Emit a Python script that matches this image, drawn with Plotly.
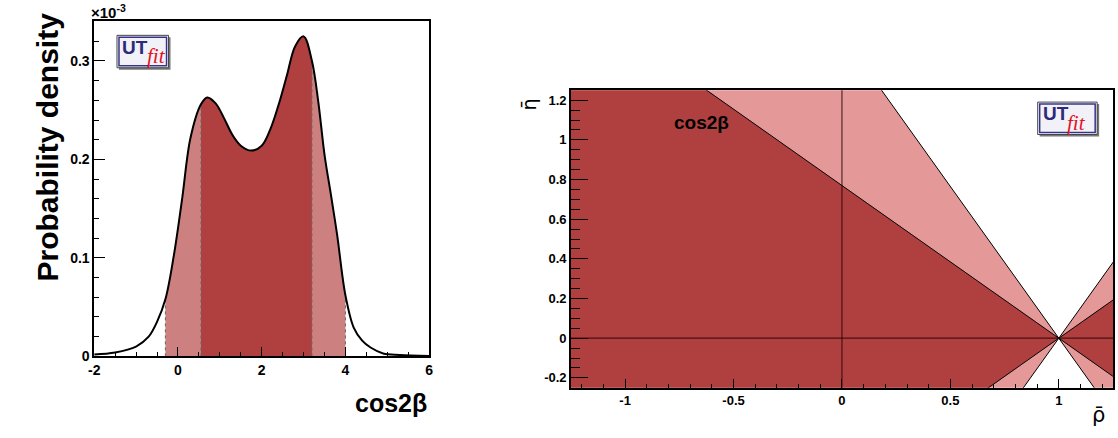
import plotly.graph_objects as go

# ---------------- data ----------------
# left panel: posterior density of cos2beta (units of 1e-3)
cos_x = [-2.0, -1.5, -1.0, -0.7, -0.5, -0.3, -0.1, 0.1, 0.3, 0.55, 0.7, 0.9, 1.1, 1.3,
         1.5, 1.75, 2.0, 2.2, 2.4, 2.6, 2.8, 3.0, 3.2, 3.35, 3.5, 3.65, 3.8, 4.0,
         4.2, 4.4, 4.6, 4.9, 5.3, 6.0]
density = [0.002, 0.004, 0.010, 0.020, 0.035, 0.058, 0.102, 0.160, 0.222, 0.256, 0.263,
           0.257, 0.242, 0.225, 0.214, 0.209, 0.214, 0.230, 0.255, 0.285, 0.315, 0.325,
           0.300, 0.259, 0.205, 0.165, 0.124, 0.062, 0.029, 0.016, 0.009, 0.003,
           0.0015, 0.0005]
band95 = [-0.3, 4.0]
band68 = [0.55, 3.2]

left_xticks = [-2, 0, 2, 4, 6]
left_xticktext = ["-2", "0", "2", "4", "6"]
left_yticks = [0, 0.1, 0.2, 0.3]
left_yticktext = ["0", "0.1", "0.2", "0.3"]

# right panel: cos2beta constraint in (rhobar, etabar) plane, wedges from apex
apex = [1.0, 0.0]
slope68 = 0.77
slope95 = 1.53

right_xticks = [-1, -0.5, 0, 0.5, 1]
right_xticktext = ["-1", "-0.5", "0", "0.5", "1"]
right_yticks = [-0.2, 0, 0.2, 0.4, 0.6, 0.8, 1.0, 1.2]
right_yticktext = ["-0.2", "0", "0.2", "0.4", "0.6", "0.8", "1", "1.2"]

# ---------------- style ----------------
W, H = 1118, 438
DARK = "rgb(176,64,64)"
LIGHT_L = "rgb(204,128,128)"
LIGHT_R = "rgb(228,152,152)"
FONT = "Liberation Sans"


def px(x):
    return x / W


def py(y):
    return 1 - y / H


fig = go.Figure()

# ----- left panel -----
i95a, i95b = cos_x.index(band95[0]), cos_x.index(band95[1])
i68a, i68b = cos_x.index(band68[0]), cos_x.index(band68[1])

fig.add_trace(go.Scatter(x=cos_x[i95a:i95b + 1], y=density[i95a:i95b + 1],
                         mode="lines", line=dict(width=0, shape="spline", color=LIGHT_L),
                         fill="tozeroy", fillcolor=LIGHT_L, xaxis="x", yaxis="y",
                         hoverinfo="skip"))
fig.add_trace(go.Scatter(x=cos_x[i68a:i68b + 1], y=density[i68a:i68b + 1],
                         mode="lines", line=dict(width=0, shape="spline", color=DARK),
                         fill="tozeroy", fillcolor=DARK, xaxis="x", yaxis="y",
                         hoverinfo="skip"))
for idx in [i95a, i68a, i68b, i95b]:
    fig.add_trace(go.Scatter(x=[cos_x[idx], cos_x[idx]], y=[0, density[idx]],
                             mode="lines", line=dict(width=1, dash="dot", color="#666"),
                             xaxis="x", yaxis="y", hoverinfo="skip"))
fig.add_trace(go.Scatter(x=cos_x, y=density, mode="lines",
                         line=dict(width=2, color="black", shape="spline"),
                         xaxis="x", yaxis="y"))

# ----- right panel -----
far_l, far_r = -3.0, 3.0
for slope, col in [(slope95, LIGHT_R), (slope68, DARK)]:
    dl = apex[0] - far_l
    fig.add_trace(go.Scatter(
        x=[apex[0], far_l, far_l, apex[0]],
        y=[apex[1], apex[1] + slope * dl, apex[1] - slope * dl, apex[1]],
        mode="lines", fill="toself", fillcolor=col,
        line=dict(color="black", width=1), xaxis="x2", yaxis="y2", hoverinfo="skip"))
    dr = far_r - apex[0]
    fig.add_trace(go.Scatter(
        x=[apex[0], far_r, far_r, apex[0]],
        y=[apex[1], apex[1] + slope * dr, apex[1] - slope * dr, apex[1]],
        mode="lines", fill="toself", fillcolor=col,
        line=dict(color="black", width=1), xaxis="x2", yaxis="y2", hoverinfo="skip"))

shapes = [
    dict(type="line", xref="x2", yref="y2 domain", x0=0, x1=0, y0=0, y1=1,
         line=dict(color="rgba(40,0,0,0.75)", width=1.2), layer="above"),
    dict(type="line", xref="x2 domain", yref="y2", x0=0, x1=1, y0=0, y1=0,
         line=dict(color="rgba(40,0,0,0.75)", width=1.2), layer="above"),
]

annotations = []


def add_logo(x0, y0, x1, y1):
    shapes.append(dict(type="rect", xref="paper", yref="paper",
                       x0=px(x0 + 2), x1=px(x1 + 2), y0=py(y1 + 2), y1=py(y0 + 2),
                       fillcolor="#777", line=dict(width=0), layer="above"))
    shapes.append(dict(type="rect", xref="paper", yref="paper",
                       x0=px(x0), x1=px(x1), y0=py(y1), y1=py(y0),
                       fillcolor="white", line=dict(color="#444", width=1), layer="above"))
    shapes.append(dict(type="rect", xref="paper", yref="paper",
                       x0=px(x0 + 2), x1=px(x1 - 2), y0=py(y1 - 2), y1=py(y0 + 2),
                       fillcolor="#f2f1f8", line=dict(color="#34348a", width=1.5),
                       layer="above"))
    annotations.append(dict(xref="paper", yref="paper", x=px(x0 + 3), y=py(y0 + 12),
                            xanchor="left", yanchor="middle", showarrow=False,
                            text="<b>UT</b>",
                            font=dict(family=FONT, size=19, color="#2b2b78")))
    annotations.append(dict(xref="paper", yref="paper", x=px(x0 + 28), y=py(y0 + 21),
                            xanchor="left", yanchor="middle", showarrow=False,
                            text="<i>fit</i>",
                            font=dict(family="Liberation Serif", size=21, color="#e0141e")))


add_logo(112, 36, 164, 69)
add_logo(1041, 104, 1101, 137)

annotations += [
    dict(xref="paper", yref="paper", x=px(23), y=py(150), textangle=-90,
         text="<b>Probability density</b>", showarrow=False,
         font=dict(family=FONT, size=30, color="black")),
    dict(xref="paper", yref="paper", x=px(427), y=py(410), xanchor="right",
         yanchor="middle", text="<b>cos2β</b>", showarrow=False,
         font=dict(family=FONT, size=25, color="black")),
    dict(xref="paper", yref="paper", x=px(84), y=py(12), xanchor="left",
         yanchor="middle", text="<b>×10<sup>-3</sup></b>", showarrow=False,
         font=dict(family=FONT, size=15, color="black")),
    dict(xref="x2", yref="y2", x=-0.65, y=1.09, text="<b>cos2β</b>", showarrow=False,
         font=dict(family=FONT, size=19, color="black")),
    dict(xref="paper", yref="paper", x=px(528), y=py(98), textangle=-90,
         text="η̄", showarrow=False, font=dict(family="DejaVu Sans", size=19, color="black")),
    dict(xref="paper", yref="paper", x=px(1111), y=py(437), yanchor="bottom",
         text="ρ̄", showarrow=False, font=dict(family="DejaVu Sans", size=21, color="black")),
]

axis_common = dict(showgrid=False, zeroline=False, showline=True, mirror=True,
                   linecolor="black", ticks="inside", tickcolor="black",
                   tickmode="array")

fig.update_layout(
    width=W, height=H, margin=dict(l=0, r=0, t=0, b=0),
    paper_bgcolor="white", plot_bgcolor="white", showlegend=False,
    xaxis=dict(**axis_common, domain=[px(89), px(427)], range=[-2, 6],
               tickvals=left_xticks, ticktext=left_xticktext, ticklen=10, tickwidth=1.3,
               linewidth=1.5, anchor="y",
               minor=dict(dtick=0.5, tick0=-2, ticklen=5, ticks="inside", tickcolor="black",
                          tickwidth=1.2),
               tickfont=dict(family=FONT, size=14, color="black", weight="bold")),
    yaxis=dict(**axis_common, domain=[py(363), py(21)], range=[0, 0.341],
               tickvals=left_yticks, ticktext=left_yticktext, ticklen=11, tickwidth=1.3,
               linewidth=1.5, anchor="x",
               minor=dict(dtick=0.02, tick0=0, ticklen=5, ticks="inside", tickcolor="black",
                          tickwidth=1.2),
               tickfont=dict(family=FONT, size=14, color="black", weight="bold")),
    xaxis2=dict(**axis_common, domain=[px(570), px(1117)], range=[-1.25, 1.25],
                tickvals=right_xticks, ticktext=right_xticktext, ticklen=9, tickwidth=1.2,
                linewidth=1.5, anchor="y2",
                minor=dict(dtick=0.1, tick0=0, ticklen=4, ticks="inside", tickcolor="black",
                           tickwidth=1),
                tickfont=dict(family=FONT, size=13, color="black", weight="bold")),
    yaxis2=dict(**axis_common, domain=[py(395), py(92)], range=[-0.25, 1.25],
                tickvals=right_yticks, ticktext=right_yticktext, ticklen=17, tickwidth=1.2,
                linewidth=1.5, anchor="x2",
                minor=dict(dtick=0.05, tick0=0, ticklen=9, ticks="inside", tickcolor="black",
                           tickwidth=1),
                tickfont=dict(family=FONT, size=13, color="black", weight="bold")),
    shapes=shapes,
    annotations=annotations,
)

fig.write_html("out.html", config={"displayModeBar": False},
               post_script="document.body.style.margin='0';"
                           "document.body.style.overflow='hidden';")
